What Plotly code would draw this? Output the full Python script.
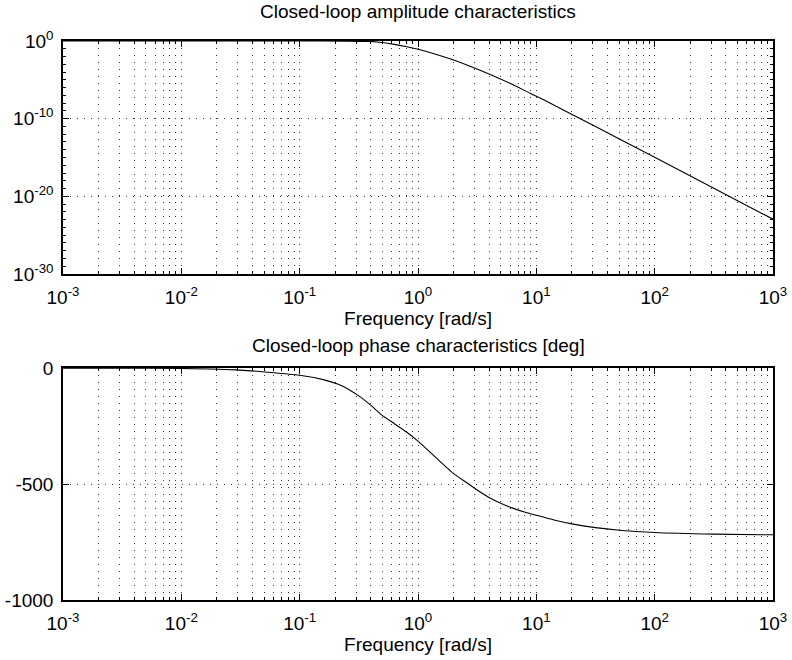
import plotly.graph_objects as go

# ---- data ----
mag_freq = [0.001, 0.01, 0.1, 0.25, 0.4, 0.5, 0.63, 0.79, 1.0, 1.41, 2.0, 2.82, 4.07, 6.0, 8.85,
            11.1, 31.6, 100.0, 316.0, 1000.0]
mag_vals = [1.0, 1.0, 0.999, 0.977, 0.871, 0.631, 0.372, 0.191, 0.0851, 0.02, 3.55e-3, 5.0e-4, 5.0e-5,
            3.55e-6, 1.9e-7, 3.55e-8, 1.0e-11, 1.05e-15, 1.12e-19, 1.12e-23]

ph_freq = [0.001, 0.00316, 0.01, 0.0316, 0.1, 0.158, 0.224, 0.316, 0.398, 0.501, 0.631, 0.794,
           1.0, 1.41, 2.0, 2.63, 3.16, 3.98, 5.0, 6.31, 7.94, 10.0, 14.1, 20.0, 31.6, 50.0,
           100.0, 316.0, 1000.0]
ph_vals = [-0.5, -1, -2, -9, -31, -50, -75, -120, -160, -205, -240, -275,
           -315, -385, -455, -497, -526, -558, -583, -604, -621, -635, -655, -672, -688, -699,
           -709, -716, -719]

x_tickvals = [1e-3, 1e-2, 1e-1, 1e0, 1e1, 1e2, 1e3]
x_ticktext = ["10<sup>-3</sup>", "10<sup>-2</sup>", "10<sup>-1</sup>", "10<sup>0</sup>",
              "10<sup>1</sup>", "10<sup>2</sup>", "10<sup>3</sup>"]
x_minor = [m * 10 ** e for e in range(-3, 3) for m in range(2, 10)]

y1_tickvals = [1e0, 1e-10, 1e-20, 1e-30]
y1_ticktext = ["10<sup>0</sup>", "10<sup>-10</sup>", "10<sup>-20</sup>", "10<sup>-30</sup>"]
y1_minor = [10.0 ** (-k) for k in range(0, 31)]

y2_tickvals = [0, -500, -1000]
y2_ticktext = ["0", "-500", "-1000"]

title_top = "Closed-loop amplitude characteristics"
title_bot = "Closed-loop phase characteristics [deg]"
xlabel = "Frequency [rad/s]"

# ---- figure ----
FONT = "Liberation Sans, Arial, Helvetica, sans-serif"
FS = 19
DOT = "1px,6px"
GRIDC = "#333333"

fig = go.Figure()
fig.add_trace(go.Scatter(x=mag_freq, y=mag_vals, mode="lines",
                         line=dict(color="black", width=1.1, shape="spline", smoothing=0.6),
                         xaxis="x", yaxis="y", showlegend=False))
fig.add_trace(go.Scatter(x=ph_freq, y=ph_vals, mode="lines",
                         line=dict(color="black", width=1.1, shape="spline", smoothing=0.6),
                         xaxis="x2", yaxis="y2", showlegend=False))

def xaxis_cfg(anchor):
    return dict(
        type="log", range=[-3, 3], anchor=anchor, automargin=False,
        tickmode="array", tickvals=x_tickvals, ticktext=x_ticktext,
        ticks="inside", ticklen=6, tickcolor="black", tickwidth=1,
        showline=True, linecolor="black", linewidth=1.5, mirror="allticks",
        showgrid=True, gridcolor=GRIDC, griddash=DOT, gridwidth=1,
        minor=dict(tickmode="array", tickvals=x_minor, ticks="inside", ticklen=3,
                   tickcolor="black", showgrid=True, gridcolor=GRIDC, griddash=DOT, gridwidth=1),
        tickfont=dict(family=FONT, size=FS, color="black"),
        title=dict(text=xlabel, font=dict(family=FONT, size=FS, color="black"), standoff=3),
        zeroline=False, ticklabelstandoff=5,
    )

layout = dict(
    width=792, height=660,
    margin=dict(l=63, r=19, t=41, b=60),
    paper_bgcolor="white", plot_bgcolor="white",
    font=dict(family=FONT, color="black"),
    xaxis=xaxis_cfg("y"),
    yaxis=dict(
        type="log", range=[-30, 0], domain=[0.5832, 1.0], anchor="x", automargin=False,
        tickmode="array", tickvals=y1_tickvals, ticktext=y1_ticktext,
        ticks="inside", ticklen=6, tickcolor="black",
        showline=True, linecolor="black", linewidth=1.5, mirror="allticks",
        showgrid=True, gridcolor=GRIDC, griddash=DOT, gridwidth=1,
        minor=dict(tickmode="array", tickvals=y1_minor, ticks="inside", ticklen=3,
                   tickcolor="black", showgrid=False),
        tickfont=dict(family=FONT, size=FS, color="black"),
        zeroline=False, ticklabelstandoff=4,
    ),
    xaxis2=xaxis_cfg("y2"),
    yaxis2=dict(
        range=[-1000, 0], domain=[0.0, 0.4150], anchor="x2", automargin=False,
        tickmode="array", tickvals=y2_tickvals, ticktext=y2_ticktext,
        ticks="inside", ticklen=6, tickcolor="black",
        showline=True, linecolor="black", linewidth=1.5, mirror="allticks",
        showgrid=True, gridcolor=GRIDC, griddash=DOT, gridwidth=1,
        tickfont=dict(family=FONT, size=FS, color="black"),
        zeroline=False, ticklabelstandoff=4,
    ),
    annotations=[
        dict(text=title_top, x=0.5, xref="paper", y=1.0, yref="paper", yanchor="bottom",
             yshift=17, showarrow=False, font=dict(family=FONT, size=FS, color="black")),
        dict(text=title_bot, x=0.5, xref="paper", y=0.4150, yref="paper", yanchor="bottom",
             yshift=10, showarrow=False, font=dict(family=FONT, size=FS, color="black")),
    ],
)
fig.update_layout(**layout)
fig.write_html("out.html")
